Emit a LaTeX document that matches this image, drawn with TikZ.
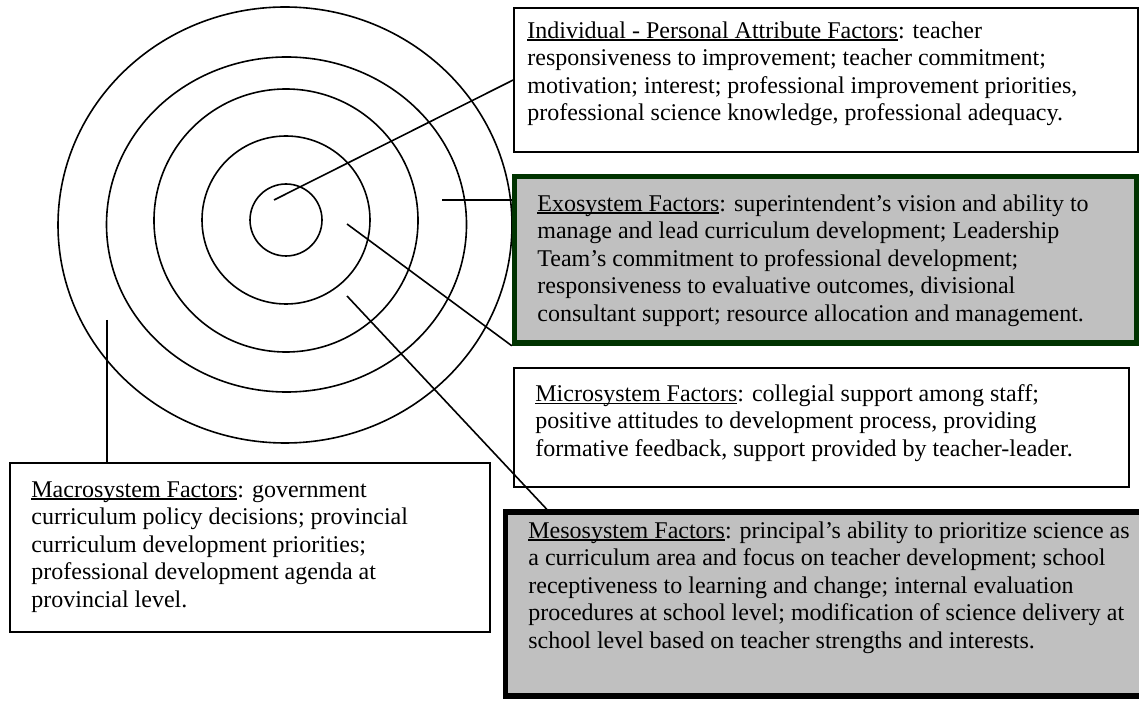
\documentclass[tikz,border=0pt]{standalone}
\usepackage{fontspec}
\setmainfont{Liberation Serif}
\definecolor{boxgray}{HTML}{C0C0C0}
\definecolor{exogreen}{HTML}{003300}
\newlength\factorwidth
\newcommand\factorname[1]{\settowidth\factorwidth{#1}\rlap{\rule[-1.4pt]{\factorwidth}{0.75pt}}#1}
\tikzset{
  ring/.style={line width=0.8pt},
  link/.style={line width=0.8pt},
  plainbox/.style={draw, line width=0.8pt, inner sep=0pt},
  heavybox/.style={draw, line width=2.75pt, fill=boxgray, inner sep=0pt},
  factortext/.style={align=left, inner sep=0pt, anchor=north west, font=\fontsize{12}{13.75}\selectfont}
}

\begin{document}
\begin{tikzpicture}[x=0.5pt,y=-0.5pt]
    \useasboundingbox (0,0) rectangle (1139,705);
    \coordinate (core) at (286,220);
    \draw[ring] (core) circle[radius=18pt];
    \draw[ring] (core) circle[radius=42pt];
    \draw[ring] (286,220.5) ellipse[x radius=66pt,y radius=65.75pt];
    \draw[ring] (286.5,224.5) ellipse[x radius=90pt,y radius=83.75pt];
    \draw[ring] (285,225) ellipse[x radius=113.5pt,y radius=109pt];

    \node[plainbox, minimum width=312pt, minimum height=72pt] (indiv) at (826,80) {};
    \node[heavybox, draw=exogreen, minimum width=311.25pt, minimum height=83.25pt] (exo) at (825.75,259.75) {};
    \node[plainbox, minimum width=307.5pt, minimum height=59.5pt] (micro) at (821.5,427.5) {};
    \node[heavybox, minimum width=318.25pt, minimum height=92pt] (meso) at (823.75,604) {};
    \node[plainbox, minimum width=240pt, minimum height=84.5pt] (macro) at (250,547.5) {};

    \node[factortext] (indivtext) at (527,21) {\factorname{Individual - Personal Attribute Factors}: teacher\\
      responsiveness to improvement; teacher commitment;\\
      motivation; interest; professional improvement priorities,\\
      professional science knowledge, professional adequacy.};
    \node[factortext] (exotext) at (537,194) {\factorname{Exosystem Factors}: superintendent’s vision and ability to\\
      manage and lead curriculum development; Leadership\\
      Team’s commitment to professional development;\\
      responsiveness to evaluative outcomes, divisional\\
      consultant support; resource allocation and management.};
    \node[factortext] (microtext) at (535,384) {\factorname{Microsystem Factors}: collegial support among staff;\\
      positive attitudes to development process, providing\\
      formative feedback, support provided by teacher-leader.};
    \node[factortext] (mesotext) at (528,521) {\factorname{Mesosystem Factors}: principal’s ability to prioritize science as\\
      a curriculum area and focus on teacher development; school\\
      receptiveness to learning and change; internal evaluation\\
      procedures at school level; modification of science delivery at\\
      school level based on teacher strengths and interests.};
    \node[factortext] (macrotext) at (31,481) {\factorname{Macrosystem Factors}: government\\
      curriculum policy decisions; provincial\\
      curriculum development priorities;\\
      professional development agenda at\\
      provincial level.};

    \coordinate (indivend) at (274,200);
    \coordinate (exoend) at (442,200);
    \coordinate (exocorner) at (347,224);
    \coordinate (mesoend) at (347,296);
    \coordinate (macroend) at (107,320);
    \draw[link] (indivend) -- (indiv.west);
    \draw[link] (exoend) -- (exoend -| exo.west);
    \draw[link] (exocorner) -- (exo.south west);
    \draw[link] (mesoend) -- ([xshift=22pt]meso.north west);
    \draw[link] (macroend) -- (macroend |- macro.north);
\end{tikzpicture}
\end{document}
